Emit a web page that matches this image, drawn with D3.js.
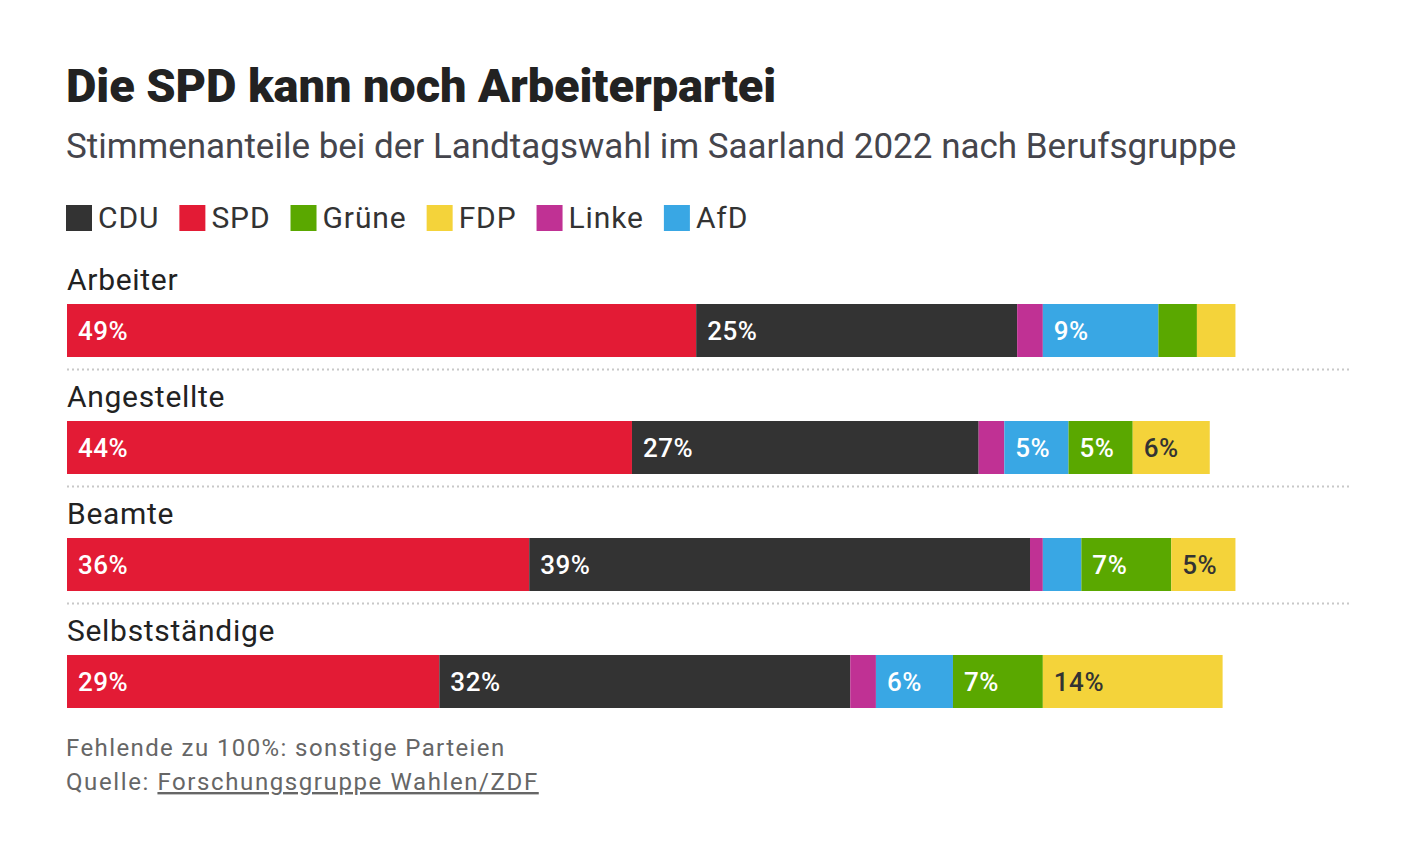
<!DOCTYPE html>
<html><head><meta charset="utf-8">
<script src="https://cdn.jsdelivr.net/npm/d3@7"></script>
<style>
body{margin:0;background:#fff;}
svg{display:block;}
</style></head>
<body>
<svg id="c" width="1420" height="864"></svg>
<script>
const groups = ["Arbeiter", "Angestellte", "Beamte", "Selbstständige"];
const stackOrder = ["SPD", "CDU", "Linke", "AfD", "Grüne", "FDP"];
const legendOrder = ["CDU", "SPD", "Grüne", "FDP", "Linke", "AfD"];
const SPD   = [49, 44, 36, 29];
const CDU   = [25, 27, 39, 32];
const Linke = [2, 2, 1, 2];
const AfD   = [9, 5, 3, 6];
const Gruene= [3, 5, 7, 7];
const FDP   = [3, 6, 5, 14];
const partyColors = {CDU:"#333333", SPD:"#e31b35", "Grüne":"#5aa800", FDP:"#f4d33a", Linke:"#c03194", AfD:"#39a7e4"};
const labelColors = {CDU:"#fff", SPD:"#fff", "Grüne":"#fff", FDP:"#333", Linke:"#fff", AfD:"#fff"};
const series = {SPD, CDU, Linke, AfD, "Grüne": Gruene, FDP};
const minLabel = 5;

const svg = d3.select("#c");
const font = "Roboto, 'Noto Sans', sans-serif";

svg.append("text").attr("x",66).attr("y",102).attr("font-family",font).attr("font-weight",900)
  .attr("font-size",47).attr("letter-spacing",-0.1).attr("fill","#222").text("Die SPD kann noch Arbeiterpartei");
svg.append("text").attr("x",66).attr("y",158).attr("font-family",font).attr("font-weight",400)
  .attr("font-size",35).attr("fill","#45454c").text("Stimmenanteile bei der Landtagswahl im Saarland 2022 nach Berufsgruppe");

// legend
let lx = 66;
const lg = svg.append("g");
legendOrder.forEach(p=>{
  lg.append("rect").attr("x",lx).attr("y",205).attr("width",26).attr("height",26).attr("fill",partyColors[p]);
  const t = lg.append("text").attr("x",lx+32).attr("y",228).attr("font-family",font).attr("font-size",30)
    .attr("letter-spacing",0.9).attr("fill","#333").text(p);
  lx += 32 + t.node().getComputedTextLength() + 20;
});

const x = d3.scaleLinear().domain([0,100]).range([67,1351]);
const y = d3.scaleBand().domain(groups).range([246,714]).paddingInner(0);
const rows = groups.map((g,i)=>{
  let acc = 0;
  return stackOrder.map(p=>{
    const v = series[p][i];
    const s = {group:g, party:p, v, x0:acc, x1:acc+v};
    acc += v; return s;
  });
});

const barOffset = 58, barH = 53;
groups.forEach((g,i)=>{
  const gy = y(g);
  const gg = svg.append("g");
  gg.append("text").attr("x",67).attr("y",gy+44).attr("font-family",font).attr("font-size",30)
    .attr("letter-spacing",0.7).attr("fill","#222").text(g);
  gg.selectAll("rect").data(rows[i]).join("rect")
    .attr("x",d=>x(d.x0)).attr("width",d=>x(d.x1)-x(d.x0))
    .attr("y",gy+barOffset).attr("height",barH).attr("fill",d=>partyColors[d.party]);
  gg.selectAll("text.v").data(rows[i].filter(d=>d.v>=minLabel)).join("text").attr("class","v")
    .attr("x",d=>x(d.x0)+11).attr("y",gy+barOffset+barH/2+9).attr("font-family",font)
    .attr("font-size",26).attr("font-weight",500).attr("letter-spacing",0.5).attr("fill",d=>labelColors[d.party]).text(d=>d.v+"%");
  if(i<groups.length-1){
    gg.append("line").attr("x1",67).attr("x2",1351).attr("y1",gy+123.5).attr("y2",gy+123.5)
      .attr("stroke","#c8c8c8").attr("stroke-width",2).attr("stroke-dasharray","2,3");
  }
});

svg.append("text").attr("x",66).attr("y",756).attr("font-family",font).attr("font-size",24)
  .attr("letter-spacing",1.4).attr("fill","#666").text("Fehlende zu 100%: sonstige Parteien");
const q = svg.append("text").attr("x",66).attr("y",790).attr("font-family",font).attr("font-size",24)
  .attr("letter-spacing",1.6).attr("fill","#666");
q.append("tspan").text("Quelle: ");
q.append("tspan").attr("text-decoration","underline").text("Forschungsgruppe Wahlen/ZDF");
</script>
</body></html>
